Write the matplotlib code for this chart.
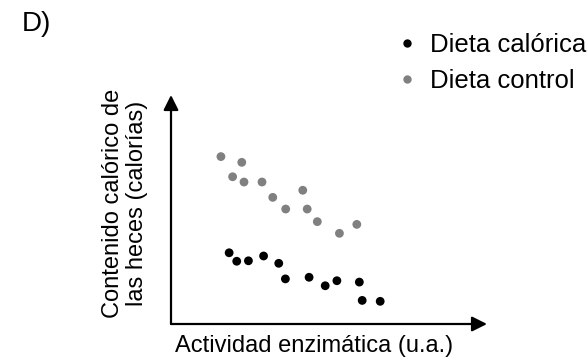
import matplotlib.pyplot as plt
from matplotlib.lines import Line2D

plt.rcParams['font.family'] = ['Liberation Sans', 'DejaVu Sans']

# Dieta control (gray)
control_x = [1.58, 2.24, 1.95, 2.31, 2.88, 3.22, 4.17, 3.63, 4.31, 4.63, 5.33, 5.88]
control_y = [7.31, 7.06, 6.43, 6.20, 6.20, 5.53, 5.84, 5.02, 5.02, 4.47, 3.96, 4.35]

# Dieta calórica (black)
calorica_x = [1.84, 2.08, 2.45, 2.93, 3.41, 3.62, 4.37, 4.88, 5.25, 5.96, 6.05, 6.62]
calorica_y = [3.11, 2.74, 2.76, 2.97, 2.65, 1.97, 2.04, 1.67, 1.89, 1.83, 1.03, 0.99]

labels = ['Dieta calórica', 'Dieta control']
colors = ['black', '#808080']

fig = plt.figure(figsize=(5.88, 3.64), dpi=100)
ax = fig.add_axes([171 / 588, 40 / 364, 316 / 588, 229 / 364])

ax.scatter(control_x, control_y, s=40, color=colors[1], edgecolors='none')
ax.scatter(calorica_x, calorica_y, s=40, color=colors[0], edgecolors='none')

ax.set_xlim(0, 10)
ax.set_ylim(0, 10)
ax.set_xticks([])
ax.set_yticks([])
for s in ax.spines.values():
    s.set_visible(False)

# axes drawn as arrows
arrow = dict(arrowstyle='-|>,head_length=0.9,head_width=0.45', color='black',
             lw=1.6, shrinkA=0, shrinkB=0)
ax.annotate('', xy=(1, 0), xytext=(0, 0), xycoords='axes fraction', arrowprops=arrow)
ax.annotate('', xy=(0, 1), xytext=(0, 0), xycoords='axes fraction', arrowprops=arrow)

fig.text(314 / 588, 1 - 346 / 364, 'Actividad enzimática (u.a.)', fontsize=17,
         ha='center', va='center')
fig.text(125 / 588, 1 - 203 / 364, 'Contenido calórico de\nlas heces (calorías)',
         fontsize=17, ha='center', va='center', rotation=90, linespacing=1.15)
fig.text(22 / 588, 1 - 24 / 364, 'D)', fontsize=20, ha='left', va='center')

handles = [Line2D([], [], ls='none', marker='o', ms=6, color=c, mec='none') for c in colors]
fig.legend(handles, labels, loc='upper left', bbox_to_anchor=(393 / 588, 1 - 33 / 364),
           frameon=False, fontsize=18.5, handletextpad=0.35, labelspacing=0.48,
           handlelength=1.1, borderaxespad=0, borderpad=0)

fig.savefig('out.png', dpi=100)
